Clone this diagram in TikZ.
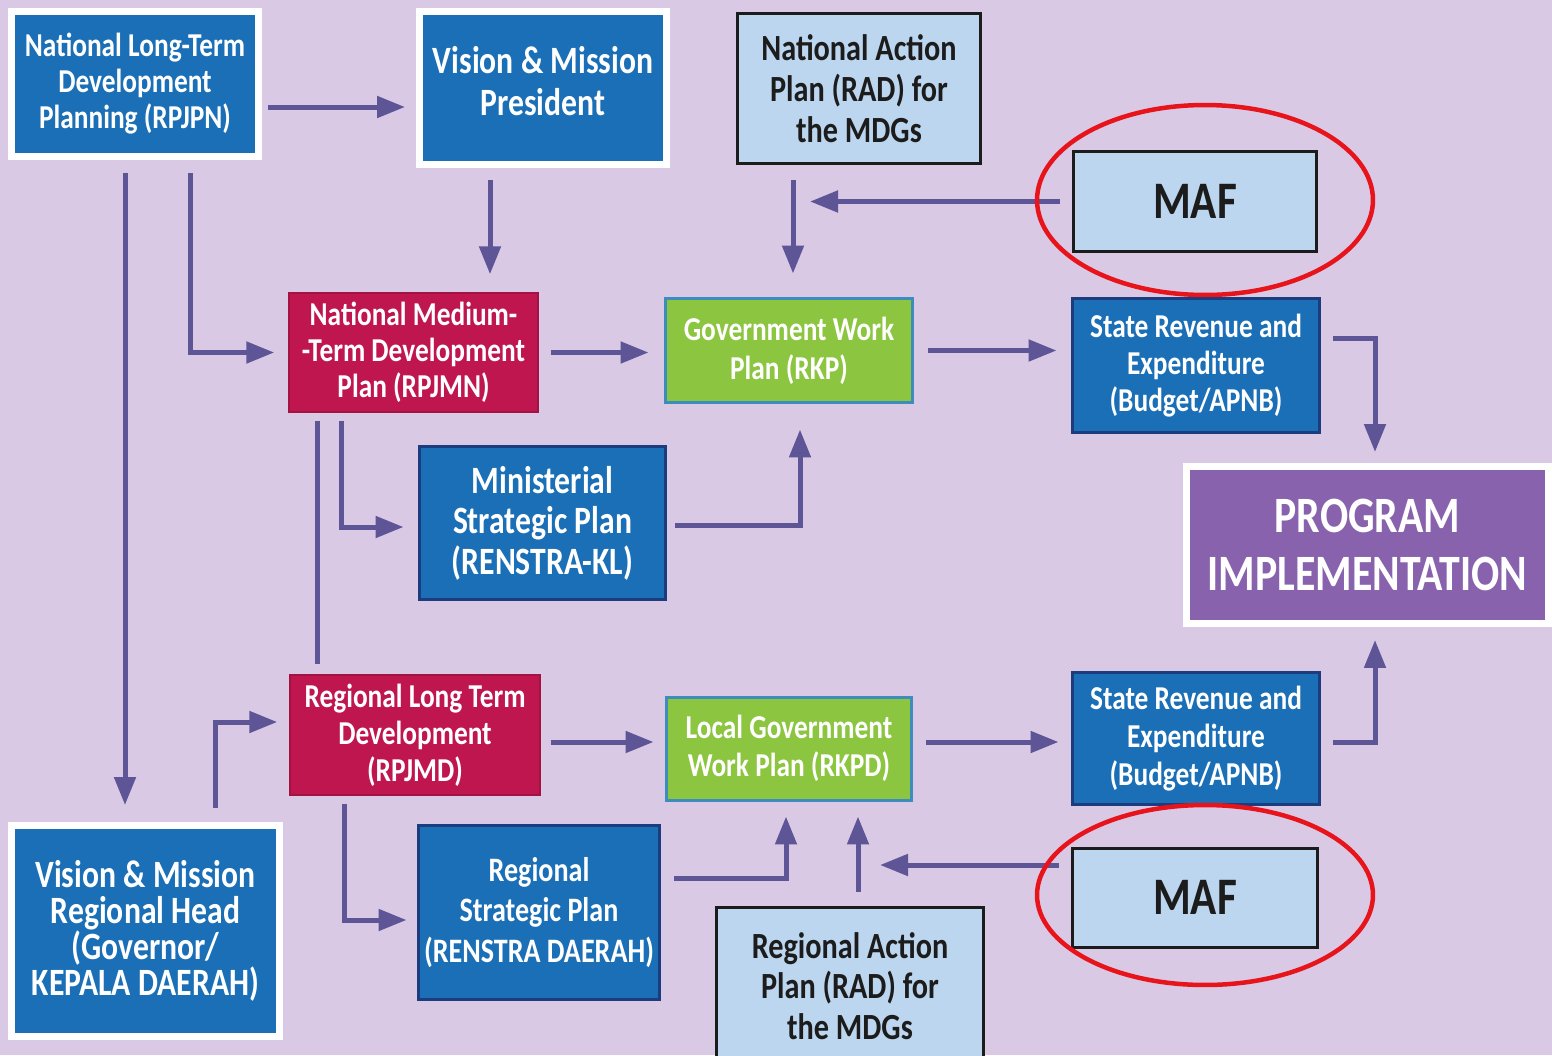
\documentclass[tikz,border=0pt]{standalone}
\usepackage{fontspec}
\setmainfont{Carlito}[FakeStretch=0.82]
\usetikzlibrary{calc,arrows.meta}
\definecolor{pgback}{HTML}{D9C9E4}
\definecolor{pgblue}{HTML}{1A6FB6}
\definecolor{pgnavy}{HTML}{1B3C7E}
\definecolor{pgred}{HTML}{BF1650}
\definecolor{pggreen}{HTML}{8CC540}
\definecolor{pgteal}{HTML}{3C8DBE}
\definecolor{pglight}{HTML}{BCD6EF}
\definecolor{pgdark}{HTML}{1C1C1C}
\definecolor{pgpurple}{HTML}{8962AE}
\definecolor{pgarrow}{HTML}{5E5597}
\definecolor{pgring}{HTML}{E8141C}
\newcommand\boxfont[2]{\bfseries\fontsize{#1}{#2}\selectfont}

\begin{document}
\begin{tikzpicture}[x=0.02cm, y=-0.02cm,
    box/.style={rectangle, align=center, inner sep=0pt, text=white},
    bluebox/.style={box, fill=pgblue, draw=pgnavy, line width=0.06cm},
    framebox/.style={box, fill=pgblue, draw=white, line width=0.14cm},
    redbox/.style={box, fill=pgred, draw=pgred!85!black, line width=0.03cm},
    greenbox/.style={box, fill=pggreen, draw=pgteal, line width=0.06cm},
    lightbox/.style={box, fill=pglight, draw=pgdark, line width=0.06cm, text=pgdark},
    arr/.style={draw=pgarrow, line width=0.1cm, -{Triangle[length=0.56cm, width=0.42cm]}},
    link/.style={draw=pgarrow, line width=0.1cm},
    ring/.style={draw=pgring, line width=0.09cm}]

    % Background
    \clip (0,0) rectangle (1552,1055);
    \fill[pgback] (0,0) rectangle (1552,1055);

    % National level
    \node[framebox, minimum width=4.94cm, minimum height=2.9cm, font=\boxfont{19}{20.5}] (rpjpn) at (135,84)
        {National Long-Term\\Development\\Planning (RPJPN)};
    \node[framebox, minimum width=4.94cm, minimum height=3.06cm, font=\boxfont{22}{24}] (vmp) at (543,88)
        {Vision \& Mission\\President\\[-0.55cm]\mbox{}};
    \node[lightbox, minimum width=4.86cm, minimum height=3.0cm, font=\boxfont{21}{23.5}] (nap) at (859,88.5)
        {National Action\\Plan (RAD) for\\the MDGs};
    \node[lightbox, minimum width=4.86cm, minimum height=2.0cm, font=\boxfont{30}{30}] (maft) at (1195,201.5)
        {MAF};
    \node[redbox, minimum width=4.98cm, minimum height=2.38cm, font=\boxfont{19}{20.5}] (rpjmn) at (413.5,352.5)
        {National Medium-\\-Term Development\\Plan (RPJMN)};
    \node[greenbox, minimum width=4.96cm, minimum height=2.1cm, font=\boxfont{19}{22}] (rkp) at (789,350.5)
        {Government Work\\Plan (RKP)};
    \node[bluebox, minimum width=4.96cm, minimum height=2.7cm, font=\boxfont{19}{21}] (srt) at (1196,365.5)
        {State Revenue and\\Expenditure\\(Budget/APNB)};
    \node[bluebox, minimum width=4.94cm, minimum height=3.08cm, font=\boxfont{22}{23}] (msp) at (542.5,523)
        {Ministerial\\Strategic Plan\\(RENSTRA-KL)};

    % Implementation
    \node[framebox, fill=pgpurple, minimum width=7.24cm, minimum height=3.14cm, font=\boxfont{29}{33}] (prog) at (1367.5,545)
        {PROGRAM\\IMPLEMENTATION};

    % Regional level
    \node[redbox, minimum width=5.0cm, minimum height=2.4cm, font=\boxfont{19}{21}] (rpjmd) at (415,735)
        {Regional Long Term\\Development\\(RPJMD)};
    \node[greenbox, minimum width=4.92cm, minimum height=2.06cm, font=\boxfont{19}{21.5}] (rkpd) at (789,748.5)
        {Local Government\\Work Plan (RKPD)};
    \node[bluebox, minimum width=4.96cm, minimum height=2.66cm, font=\boxfont{19}{21.5}] (srb) at (1196,738.5)
        {State Revenue and\\Expenditure\\(Budget/APNB)};
    \node[framebox, minimum width=5.36cm, minimum height=4.22cm, font=\boxfont{22}{20.5}] (vmrh) at (145.5,931)
        {Vision \& Mission\\Regional Head\\(Governor/\\KEPALA DAERAH)};
    \node[bluebox, minimum width=4.84cm, minimum height=3.5cm, font=\boxfont{19.5}{23}] (rsp) at (539,912.5)
        {Regional\\Strategic Plan\\(RENSTRA DAERAH)};
    \node[lightbox, minimum width=5.36cm, minimum height=3.16cm, font=\boxfont{21}{23}] (rap) at (850,986)
        {Regional Action\\Plan (RAD) for\\the MDGs};
    \node[lightbox, minimum width=4.92cm, minimum height=1.98cm, font=\boxfont{30}{30}] (mafb) at (1195,897.5)
        {MAF};

    % Arrows, national level
    \draw[arr] ($(rpjpn.east)+(6,23)$) -- ($(rpjpn.east -| vmp.west)+(-11,23)$);
    \draw[arr] ($(vmp.south)+(-53,12)$) -- ($(vmp.south |- rpjmn.north)+(-53,-18)$);
    \draw[arr] ($(rpjpn.south)+(55,13)$) |- ($(rpjmn.west)+(-14,0)$);
    \draw[arr] ($(rpjpn.south)+(-10,13)$) -- ($(rpjpn.south |- vmrh.north)+(-10,-17)$);
    \draw[arr] ($(nap.south)+(-66,15)$) -- ($(nap.south |- rkp.north)+(-66,-23)$);
    \draw[arr] ($(maft.west)+(-12,0)$) -- ($(maft.west -| nap.south)+(-49,0)$);
    \draw[arr] ($(rpjmn.east)+(12,0)$) -- ($(rpjmn.east -| rkp.west)+(-15,0)$);
    \draw[arr] ($(rkp.east)+(14,0)$) -- ($(rkp.east -| srt.west)+(-14,0)$);
    \draw[arr] ($(srt.east)+(12,-27.5)$) -| ($(prog.north)+(7.5,-11)$);
    \draw[arr] ($(rpjmn.south)+(-72.5,8)$) |- ($(msp.west)+(-14,4)$);
    \draw[link] ($(rpjmn.south)+(-96.5,8)$) -- ($(rpjmn.south |- rpjmd.north)+(-96.5,-10)$);
    \draw[arr] ($(msp.east)+(8,2)$) -| ($(rkp.south)+(11,25)$);

    % Arrows, regional level
    \draw[arr] ($(vmrh.north)+(69.5,-14)$) |- ($(rpjmd.west)+(-12,-13)$);
    \draw[arr] ($(rpjmd.east)+(10,7)$) -- ($(rpjmd.east -| rkpd.west)+(-11,7)$);
    \draw[arr] ($(rkpd.east)+(13,-6.5)$) -- ($(rkpd.east -| srb.west)+(-12,-6.5)$);
    \draw[arr] ($(srb.east)+(12,3.5)$) -| ($(prog.south)+(7.5,13)$);
    \draw[arr] ($(rpjmd.south)+(-71,8)$) |- ($(rsp.west)+(-10,7.5)$);
    \draw[arr] ($(rsp.east)+(13,-34.5)$) -| ($(rkpd.south)+(-3,15)$);
    \draw[arr] ($(rap.north)+(8,-14)$) -- ($(rap.north |- rkpd.south)+(8,15)$);
    \draw[arr] ($(mafb.west)+(-12,-32.5)$) -- ($(mafb.west -| rap.north)+(30,-32.5)$);

    % Red rings
    \draw[ring] ($(maft.center)+(10,-1.5)$) ellipse [x radius=3.36cm, y radius=1.9cm];
    \draw[ring] ($(mafb.center)+(10,-2.5)$) ellipse [x radius=3.36cm, y radius=1.8cm];
\end{tikzpicture}
\end{document}
